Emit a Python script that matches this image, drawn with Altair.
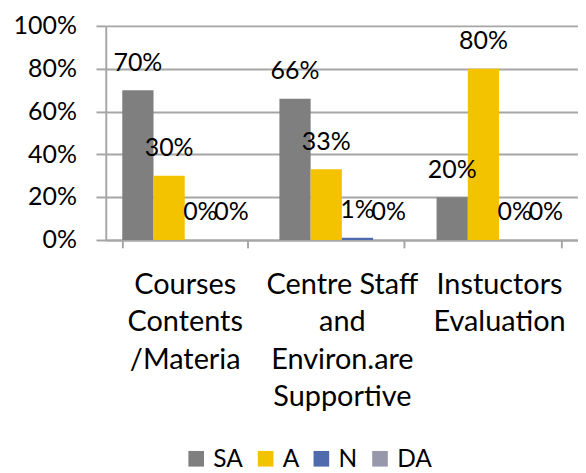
import altair as alt
import pandas as pd

categories = ["Courses Contents /Materia", "Centre Staff and Environ.are Supportive", "Instuctors Evaluation"]
label_lines = [["Courses", "Contents", "/Materia"], ["Centre Staff", "and", "Environ.are", "Supportive"], ["Instuctors", "Evaluation"]]
series = ["SA", "A", "N", "DA"]
colors = ["#7f7f7f", "#f4c300", "#4f6bad", "#9898ad"]
values = {
    "SA": [0.70, 0.66, 0.20],
    "A": [0.30, 0.33, 0.80],
    "N": [0.00, 0.01, 0.00],
    "DA": [0.00, 0.00, 0.00],
}

rows = []
for s in series:
    for c, v in zip(categories, values[s]):
        rows.append({"cat": c, "series": s, "value": v})
df = pd.DataFrame(rows)

expr = ""
for c, lines in zip(categories, label_lines):
    arr = "[" + ",".join("'" + l + "'" for l in lines) + "]"
    expr += f"datum.value == '{c}' ? {arr} : "
expr += "datum.value"

FONT = "Lato"
GRID = "#a6a6a6"

x = alt.X("cat:N", sort=categories, title=None,
          scale=alt.Scale(paddingInner=0.205, paddingOuter=0.105),
          axis=alt.Axis(labelExpr=expr, labelAngle=0, tickBand="extent", tickSize=8,
                        tickColor=GRID, tickWidth=2, domainColor=GRID, domainWidth=2,
                        labelFont=FONT, labelFontSize=29.5, labelColor="#000000",
                        labelLineHeight=38, labelPadding=24, labelBaseline="top", grid=False))
xo = alt.XOffset("series:N", sort=series, scale=alt.Scale(paddingInner=0, paddingOuter=0))
y = alt.Y("value:Q", title=None,
          scale=alt.Scale(domain=[0, 1], nice=False),
          axis=alt.Axis(values=[0, 0.2, 0.4, 0.6, 0.8, 1.0], format=".0%", grid=True,
                        gridColor=GRID, gridWidth=2, tickColor=GRID, tickWidth=2, tickSize=10,
                        domainColor=GRID, domainWidth=2, labelFont=FONT, labelFontSize=25.5,
                        labelColor="#000000", labelPadding=20))

color = alt.Color("series:N", sort=series, title=None,
                  scale=alt.Scale(domain=series, range=colors),
                  legend=alt.Legend(orient="none", direction="horizontal", legendX=80, legendY=430,
                                    symbolType="square", symbolSize=256, symbolStrokeWidth=0,
                                    labelFont=FONT, labelFontSize=25, labelColor="#000000",
                                    labelOffset=5, columnPadding=10, padding=0))

bars = alt.Chart(df).mark_bar(opacity=1).encode(x=x, xOffset=xo, y=y, color=color)
text = alt.Chart(df).mark_text(font=FONT, fontSize=25.5, baseline="middle", dy=-28, color="#000000").encode(
    x=alt.X("cat:N", sort=categories), xOffset=xo, y="value:Q",
    text=alt.Text("value:Q", format=".0%"))

chart = (bars + text).properties(
    width=483, height=219,
    autosize=alt.AutoSizeParams(type="none"),
    padding={"left": 100, "top": 13, "right": 0, "bottom": 233},
).configure_view(stroke=None)

chart.save("out.html", embed_options={"renderer": "svg", "actions": False})
